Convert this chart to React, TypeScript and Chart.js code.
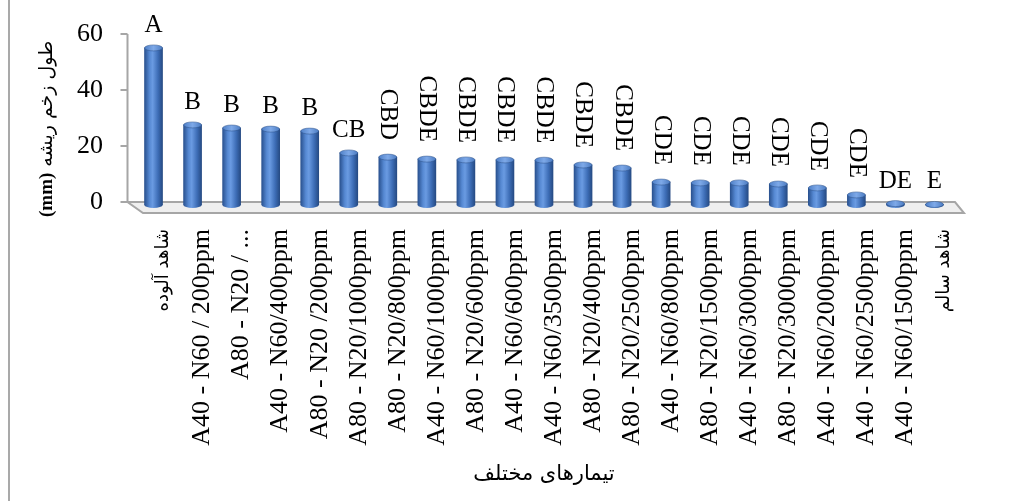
import React, { useEffect, useRef } from "react";
import { Chart, registerables } from "chart.js";

Chart.register(...registerables);

const categories = [
  "شاهد آلوده",
  "A40 - N60 / 200ppm",
  "A80 - N20 / ...",
  "A40 - N60/400ppm",
  "A80 - N20 /200ppm",
  "A80 - N20/1000ppm",
  "A80 - N20/800ppm",
  "A40 - N60/1000ppm",
  "A80 - N20/600ppm",
  "A40 - N60/600ppm",
  "A40 - N60/3500ppm",
  "A80 - N20/400ppm",
  "A80 - N20/2500ppm",
  "A40 - N60/800ppm",
  "A80 - N20/1500ppm",
  "A40 - N60/3000ppm",
  "A80 - N20/3000ppm",
  "A40 - N60/2000ppm",
  "A40 - N60/2500ppm",
  "A40 - N60/1500ppm",
  "شاهد سالم",
];

const values = [
  56.1, 28.6, 27.5, 27.1, 26.4, 18.6, 17.1, 16.4, 16.1, 16.1, 16.0,
  14.3, 13.2, 8.2, 7.9, 7.9, 7.5, 6.1, 3.6, 0.5, 0.2,
];

const groupLetters = [
  "A", "B", "B", "B", "B", "CB", "CBD", "CBDE", "CBDE", "CBDE", "CBDE",
  "CBDE", "CBDE", "CDE", "CDE", "CDE", "CDE", "CDE", "CDE", "DE", "E",
];

const yTickValues = [0, 20, 40, 60];
const yTitleUnit = "(mm)";
const yTitleText = "طول زخم ریشه";
const xTitleText = "تیمارهای مختلف";

const SERIF = '"Liberation Serif", "Times New Roman", serif';
const ARABIC = '"DejaVu Sans", sans-serif';
const BAR_W = 18;
const BAR_COLOR = "#4a7bc4";

function ok(...n: number[]) {
  return n.every((v) => typeof v === "number" && isFinite(v));
}

function sideGradient(ctx: CanvasRenderingContext2D, x: number, w: number): any {
  if (!ok(x, w)) return BAR_COLOR;
  const g = ctx.createLinearGradient(x - w / 2, 0, x + w / 2, 0);
  g.addColorStop(0, "#2a5290");
  g.addColorStop(0.28, "#5689d3");
  g.addColorStop(0.45, "#6a9be2");
  g.addColorStop(0.75, "#3d6db6");
  g.addColorStop(1, "#264b84");
  return g;
}

function topGradient(ctx: CanvasRenderingContext2D, x: number, w: number): any {
  if (!ok(x, w)) return "#6a9be2";
  const g = ctx.createLinearGradient(x - w / 2, 0, x + w / 2, 0);
  g.addColorStop(0, "#4f80c8");
  g.addColorStop(0.5, "#7ea9e8");
  g.addColorStop(1, "#4c7cc2");
  return g;
}

function ellipse(ctx: CanvasRenderingContext2D, x: number, y: number, rx: number, ry: number) {
  ctx.beginPath();
  ctx.ellipse(x, y, rx, ry, 0, 0, Math.PI * 2);
}

const decoPlugin = {
  id: "deco",
  beforeDraw(chart: any) {
    const ctx = chart.ctx as CanvasRenderingContext2D;
    ctx.save();
    ctx.fillStyle = "#a9a9a9";
    ctx.fillRect(8, 0, 2, chart.height);
    ctx.restore();
  },
  beforeDatasetsDraw(chart: any) {
    const ctx = chart.ctx as CanvasRenderingContext2D;
    const a = chart.chartArea;
    const ys = chart.scales.y;
    const ax = a.left - 6.5;
    ctx.save();
    // floor
    ctx.beginPath();
    ctx.moveTo(ax, a.bottom);
    ctx.lineTo(a.right + 1, a.bottom);
    ctx.lineTo(a.right + 10, a.bottom + 11);
    ctx.lineTo(a.left + 9, a.bottom + 11);
    ctx.closePath();
    ctx.fillStyle = "#efefef";
    ctx.fill();
    ctx.strokeStyle = "#a6a6a6";
    ctx.lineWidth = 2;
    ctx.stroke();
    // y axis line and tick marks
    ctx.beginPath();
    ctx.moveTo(ax, a.top);
    ctx.lineTo(ax, a.bottom);
    yTickValues.forEach((v) => {
      const py = ys.getPixelForValue(v);
      ctx.moveTo(ax - 7, py);
      ctx.lineTo(ax, py);
    });
    ctx.stroke();
    ctx.restore();

    // bars are drawn slightly in front of the back wall
    ctx.save();
    ctx.translate(0, 3);
    const meta = chart.getDatasetMeta(0);
    meta.data.forEach((bar: any) => {
      const { x, base, width } = bar.getProps(["x", "base", "width"], true);
      if (!ok(x, base, width)) return;
      ellipse(ctx, x, base, width / 2, 3);
      ctx.fillStyle = sideGradient(ctx, x, width);
      ctx.fill();
    });
  },
  afterDatasetsDraw(chart: any) {
    const ctx = chart.ctx as CanvasRenderingContext2D;
    const meta = chart.getDatasetMeta(0);
    meta.data.forEach((bar: any) => {
      const { x, y, width } = bar.getProps(["x", "y", "width"], true);
      if (!ok(x, y, width)) return;
      ellipse(ctx, x, y, width / 2, 3);
      ctx.fillStyle = topGradient(ctx, x, width);
      ctx.fill();
      ctx.strokeStyle = "rgba(40,75,130,0.6)";
      ctx.lineWidth = 0.8;
      ctx.stroke();
    });
    ctx.restore();

    // group letters
    ctx.save();
    ctx.fillStyle = "#000";
    ctx.font = `25px ${SERIF}`;
    meta.data.forEach((bar: any, i: number) => {
      const { x, y } = bar.getProps(["x", "y"], true);
      if (!ok(x, y)) return;
      const t = groupLetters[i];
      if (t.length < 3) {
        ctx.textAlign = "center";
        ctx.textBaseline = "alphabetic";
        ctx.fillText(t, x, y - 13);
      } else {
        ctx.save();
        ctx.translate(x, y - 14);
        ctx.rotate(Math.PI / 2);
        ctx.textAlign = "right";
        ctx.textBaseline = "middle";
        ctx.fillText(t, 0, 0);
        ctx.restore();
      }
    });
    ctx.restore();

    // y axis title
    ctx.save();
    ctx.translate(47, 217);
    ctx.rotate(-Math.PI / 2);
    ctx.fillStyle = "#000";
    ctx.textAlign = "left";
    ctx.textBaseline = "middle";
    ctx.font = `bold 19px ${SERIF}`;
    ctx.fillText(yTitleUnit, 0, 0);
    const w = ctx.measureText(yTitleUnit).width;
    ctx.font = `19px ${ARABIC}`;
    ctx.fillText(yTitleText, w + 6, 0);
    ctx.restore();
  },
};

export default function App() {
  const ref = useRef<HTMLCanvasElement | null>(null);

  useEffect(() => {
    if (!ref.current) return;
    const chart = new Chart(ref.current, {
      type: "bar",
      data: {
        labels: categories,
        datasets: [
          {
            data: values,
            barThickness: BAR_W,
            clip: false as any,
            borderWidth: 0,
            backgroundColor: (c: any) => {
              const ch = c.chart;
              const xs = ch && ch.scales && ch.scales.x;
              if (!xs || c.dataIndex == null) return BAR_COLOR;
              const x = xs.getPixelForValue(c.dataIndex);
              return sideGradient(ch.ctx, x, BAR_W);
            },
          },
        ],
      },
      options: {
        animation: false,
        responsive: true,
        maintainAspectRatio: false,
        layout: { padding: { top: 34, right: 62, left: 0, bottom: 0 } },
        plugins: {
          legend: { display: false },
          tooltip: { enabled: false },
        },
        scales: {
          x: {
            grid: { display: false, drawTicks: false },
            border: { display: false },
            afterFit: (s: any) => {
              s.height = 299;
            },
            ticks: {
              autoSkip: false,
              minRotation: 90,
              maxRotation: 90,
              padding: 27,
              labelOffset: 10,
              color: "#000",
              font: (c: any) =>
                c.index === 0 || c.index === categories.length - 1
                  ? { family: ARABIC, size: 18 }
                  : { family: SERIF, size: 26 },
            },
            title: {
              display: true,
              text: xTitleText,
              color: "#000",
              font: { family: ARABIC, size: 21 },
              padding: { top: 4, bottom: 14 },
            },
          },
          y: {
            min: 0,
            max: 60,
            grid: { display: false, drawTicks: false },
            border: { display: false },
            afterFit: (s: any) => {
              s.width = 134;
              s.paddingTop = 16;
              s.paddingBottom = 16;
            },
            afterBuildTicks: (s: any) => {
              s.ticks = yTickValues.map((v) => ({ value: v }));
            },
            ticks: {
              padding: 31,
              color: "#000",
              font: { family: SERIF, size: 26 },
            },
          },
        },
      },
      plugins: [decoPlugin],
    });
    return () => chart.destroy();
  }, []);

  return (
    <div style={{ position: "absolute", left: 0, top: 0, width: 1016, height: 501, background: "#fff" }}>
      <canvas ref={ref} />
    </div>
  );
}
